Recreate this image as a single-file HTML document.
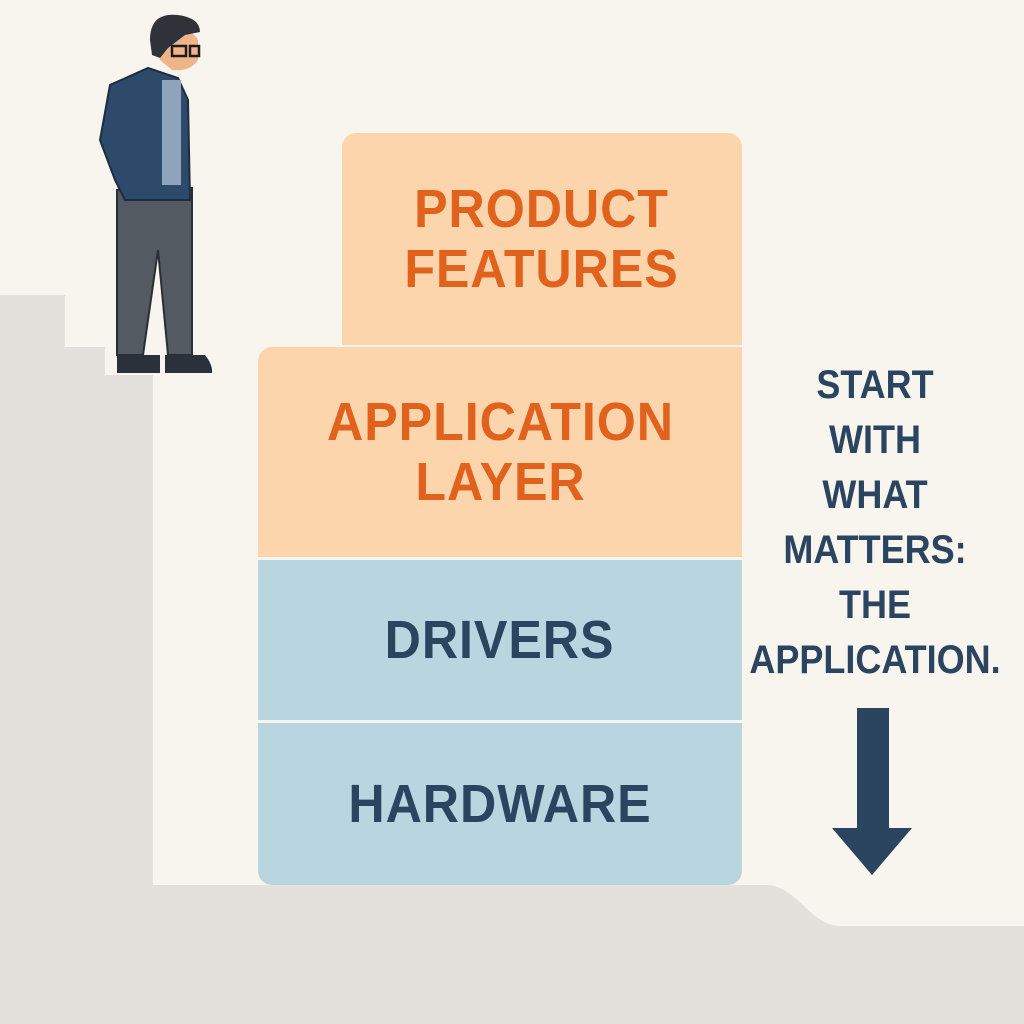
<!DOCTYPE html>
<html><head><style>
body{margin:0;width:1024px;height:1024px;background:#f8f5ef;overflow:hidden;position:relative;font-family:"Liberation Sans",sans-serif;font-weight:bold}
.b{position:absolute;display:flex;align-items:center;justify-content:center;text-align:center;font-size:54px;line-height:60px;letter-spacing:1px}
.b span{display:inline-block;transform:scaleX(0.93)}
.o{background:#fdd5ac;color:#e0621c}
.bl{background:#b8d5e0;color:#2b4560}
#t{position:absolute;left:735px;width:280px;top:358px;text-align:center;font-size:40px;line-height:55px;color:#2b4560;transform:scaleX(0.9)}
</style></head><body>
<svg width="1024" height="1024" style="position:absolute;left:0;top:0">
<path d="M0 295 H65 V347 H105 V375 H153 V885 H770 C800 890 810 925 840 926 H1024 V1024 H0 Z" fill="#e4e1dc"/>
<path d="M117 190 L192 188 L192 355 L168 355 L158 250 L143 355 L117 355 Z" fill="#545a62" stroke="#2a2f36" stroke-width="2"/>
<path d="M117 355 H160 V373 H117 Z" fill="#2a313b"/>
<path d="M165 355 H205 Q213 365 212 373 H165 Z" fill="#2a313b"/>
<path d="M148 68 L178 78 L188 100 L190 200 L125 200 L115 180 L100 140 L110 85 Z" fill="#2e4a6b" stroke="#1f2d40" stroke-width="2"/>
<rect x="162" y="80" width="19" height="105" fill="#8ea4bc"/>
<path d="M160 30 Q190 25 198 40 L198 60 Q190 72 172 70 L160 60 Z" fill="#f0b48a"/>
<path d="M150 40 Q150 12 178 15 Q200 18 200 32 L185 35 L168 48 L160 58 L152 55 Z" fill="#2f3238"/>
<rect x="172" y="46" width="14" height="10" fill="none" stroke="#1c1c1c" stroke-width="2.5"/>
<rect x="190" y="46" width="9" height="10" fill="none" stroke="#1c1c1c" stroke-width="2.5"/>
<path d="M857 708 H889 V828 H912 L872 875 L832 828 H857 Z" fill="#2b4560"/>
</svg>
<div class="b o" style="left:342px;top:133px;width:400px;height:212px;border-radius:14px 14px 0 0"><span>PRODUCT<br>FEATURES</span></div>
<div class="b o" style="left:258px;top:347px;width:484px;height:210px;border-radius:14px 0 0 0"><span>APPLICATION<br>LAYER</span></div>
<div class="b bl" style="left:258px;top:560px;width:484px;height:160px"><span>DRIVERS</span></div>
<div class="b bl" style="left:258px;top:723px;width:484px;height:162px;border-radius:0 0 14px 14px"><span>HARDWARE</span></div>
<div id="t">START<br>WITH<br>WHAT<br>MATTERS:<br>THE<br>APPLICATION.</div>
</body></html>
